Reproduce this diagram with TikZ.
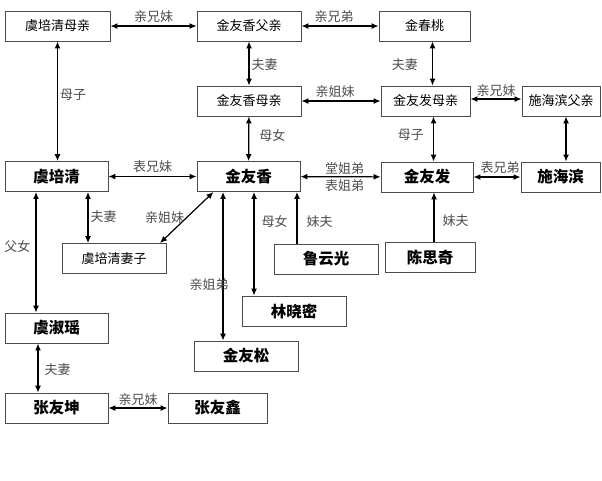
\documentclass[tikz,border=0pt]{standalone}
\usepackage{fontspec}
\newfontfamily\cjk{Noto Sans CJK SC}
\usetikzlibrary{arrows.meta}

\begin{document}
\begin{tikzpicture}[x=1pt, y=-1pt, >={Latex[length=7pt,width=6pt]},
    kin/.style = {draw=black!70, line width=0.9pt, minimum width=104pt, minimum height=30pt, inner sep=0pt, font=\cjk\fontsize{13}{13}\selectfont},
    main/.style = {kin, font=\cjk\bfseries\fontsize{15.5}{15.5}\selectfont},
    tie/.style = {line width=1.2pt},
    lab/.style = {text=black!70, inner sep=2pt, font=\cjk\fontsize{13}{13}\selectfont}]
    \useasboundingbox (0,0) rectangle (602,480);
    % parents
    \node[kin] (mPQ) at (57.5,26) [minimum width=105pt] {虞培清母亲};
    \node[kin] (fYX) at (249,26) {金友香父亲};
    \node[kin] (JCT) at (424.5,26) [minimum width=91pt] {金春桃};
    \node[kin] (mYX) at (249,101) {金友香母亲};
    \node[kin] (mYF) at (425.5,101) [minimum width=89pt] {金友发母亲};
    \node[kin] (fHB) at (561,101) [minimum width=78pt] {施海滨父亲};
    % main row
    \node[main] (PQ) at (56.5,176.5) [minimum width=103pt] {虞培清};
    \node[main] (YX) at (248.5,176.5) [minimum width=103pt] {金友香};
    \node[main] (YF) at (427,177) [minimum width=92pt] {金友发};
    \node[main] (HB) at (560.5,177) [minimum width=79pt] {施海滨};
    % others
    \node[kin] (wPQ) at (114,258.5) {虞培清妻子};
    \node[main] (LYG) at (326,259) {鲁云光};
    \node[main] (CSQ) at (430,257.5) [minimum width=90pt] {陈思奇};
    \node[main] (LXM) at (294,311) {林晓密};
    \node[main] (YS) at (246,356) {金友松};
    \node[main] (SY) at (56.5,328) [minimum width=103pt] {虞淑瑶};
    \node[main] (ZYK) at (56.5,408) [minimum width=103pt] {张友坤};
    \node[main] (ZYX) at (217.5,408) [minimum width=99pt] {张友鑫};

    \draw[tie, <->] (mPQ) -- node[lab, above, yshift=1pt] {亲兄妹} (fYX);
    \draw[tie, <->] (fYX) -- node[lab, above, yshift=1pt, xshift=-6pt] {亲兄弟} (JCT);
    \draw[tie, <->] (fYX) -- node[lab, right, pos=0.53] {夫妻} (mYX);
    \draw[tie, <->] ([xshift=8pt]JCT.south) -- node[lab, left, pos=0.53, xshift=-12pt] {夫妻} ([xshift=8pt]JCT.south |- mYF.north);
    \draw[tie, <->] (mYX) -- node[lab, above, yshift=1pt, xshift=-6pt] {亲姐妹} (mYF);
    \draw[tie, <->] ([yshift=2pt]mYF.east) -- node[lab, above] {亲兄妹} ([yshift=2pt]mYF.east -| fHB.west);
    \draw[tie, <->] (mPQ.south) -- node[lab, right, pos=0.45] {母子} (mPQ.south |- PQ.north);
    \draw[tie, <->] (mYX) -- node[lab, right, pos=0.42, xshift=8pt] {母女} (YX);
    \draw[tie, <->] ([xshift=8pt]mYF.south) -- node[lab, left, pos=0.41, xshift=-7pt] {母子} ([xshift=8pt]mYF.south |- YF.north);
    \draw[tie, <->] ([xshift=5pt]fHB.south) -- ([xshift=5pt]fHB.south |- HB.north);
    \draw[tie, <->] (PQ) -- node[lab, above, yshift=1pt] {表兄妹} (YX);
    \draw[tie, <->] (YX) -- node[lab, above, xshift=4pt] {堂姐弟} node[lab, below, xshift=4pt] {表姐弟} (YF);
    \draw[tie, <->] (YF) -- node[lab, above, yshift=1pt, xshift=3pt] {表兄弟} (HB);
    \draw[tie, <->] ([xshift=31.5pt]PQ.south) -- node[lab, right, pos=0.49] {夫妻} ([xshift=31.5pt]PQ.south |- wPQ.north);
    \draw[tie, <->] ([xshift=-35pt]YX.south) -- node[lab, left, midway] {亲姐妹} ([xshift=46pt]wPQ.north);
    \draw[tie, <->] ([xshift=-20.5pt]PQ.south) -- node[lab, left, pos=0.45, xshift=-3pt] {父女} ([xshift=-20.5pt]PQ.south |- SY.north);
    \draw[tie, <->] ([xshift=-25.5pt]YX.south) -- node[lab, pos=0.62, xshift=-14pt] {亲姐弟} ([xshift=-25.5pt]YX.south |- YS.north);
    \draw[tie, <->] ([xshift=5.5pt]YX.south) -- node[lab, right, pos=0.29, xshift=5pt] {母女} ([xshift=5.5pt]YX.south |- LXM.north);
    \draw[tie, ->] ([xshift=-29pt]LYG.north) -- node[lab, right, pos=0.42, xshift=7pt] {妹夫} ([xshift=-29pt]LYG.north |- YX.south);
    \draw[tie, ->] ([xshift=4pt]CSQ.north) -- node[lab, right, pos=0.44, xshift=6pt] {妹夫} ([xshift=4pt]CSQ.north |- YF.south);
    \draw[tie, <->] ([xshift=-18.5pt]SY.south) -- node[lab, right, pos=0.54, xshift=4pt] {夫妻} ([xshift=-18.5pt]SY.south |- ZYK.north);
    \draw[tie, <->] (ZYK) -- node[lab, above] {亲兄妹} (ZYX);
\end{tikzpicture}
\end{document}
